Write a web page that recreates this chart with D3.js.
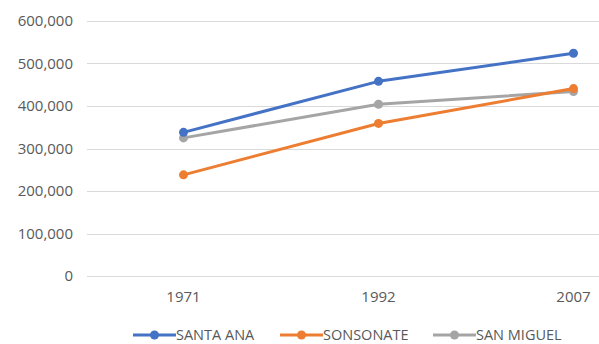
<!DOCTYPE html>
<html>
<head>
<meta charset="utf-8">
<script src="https://cdn.jsdelivr.net/npm/d3@7"></script>
<style>
  body { margin: 0; background: #fff; }
  text { font-family: "Open Sans", sans-serif; fill: #595959; }
</style>
</head>
<body>
<script>
var years = ["1971", "1992", "2007"];
var santaAna = [338000, 458000, 524000];
var sonsonate = [238000, 359000, 441000];
var sanMiguel = [325000, 404000, 434000];
var seriesNames = ["SANTA ANA", "SONSONATE", "SAN MIGUEL"];
var yTicks = [0, 100000, 200000, 300000, 400000, 500000, 600000];

var width = 599,
    height = 344;

var svg = d3.select("body").append("svg")
    .attr("width", width)
    .attr("height", height);

var colors = ["#4472c4", "#ed7d31", "#a5a5a5"];
var series = [santaAna, sonsonate, sanMiguel];

// plot runs past the right edge, like the cropped original
var x = d3.scaleBand().domain(years).range([86, 671]);
var y = d3.scaleLinear().domain([0, 600000]).range([276, 21]);

function cx(i) { return x(years[i]) + x.bandwidth() / 2; }

// gridlines
svg.append("g")
    .selectAll("line")
    .data(yTicks)
    .enter()
    .append("line")
    .attr("x1", 87)
    .attr("x2", width)
    .attr("y1", function (d) { return Math.round(y(d)) + 0.5; })
    .attr("y2", function (d) { return Math.round(y(d)) + 0.5; })
    .style("stroke", "#d9d9d9")
    .style("stroke-width", 1);

// y labels
svg.append("g")
    .selectAll("text")
    .data(yTicks)
    .enter()
    .append("text")
    .attr("x", 73)
    .attr("y", function (d) { return y(d) + 5; })
    .attr("text-anchor", "end")
    .style("font-size", "15px")
    .text(function (d) { return d3.format(",")(d); });

// x labels
svg.append("g")
    .selectAll("text")
    .data(years)
    .enter()
    .append("text")
    .attr("x", function (d, i) { return cx(i); })
    .attr("y", 302)
    .attr("text-anchor", "middle")
    .style("font-size", "15px")
    .text(function (d) { return d; });

var line = d3.line()
    .x(function (d, i) { return cx(i); })
    .y(function (d) { return y(d); });

// draw back to front so blue sits on top
[2, 1, 0].forEach(function (k) {
    var g = svg.append("g");
    g.append("path")
        .datum(series[k])
        .attr("d", line)
        .style("fill", "none")
        .style("stroke", colors[k])
        .style("stroke-width", 3)
        .style("stroke-linejoin", "round")
        .style("stroke-linecap", "round");
    g.selectAll("circle")
        .data(series[k])
        .enter()
        .append("circle")
        .attr("cx", function (d, i) { return cx(i); })
        .attr("cy", function (d) { return y(d); })
        .attr("r", 4.5)
        .style("fill", colors[k]);
});

// legend
var legendX = [133, 280, 433];
var legend = svg.append("g")
    .selectAll("g")
    .data(seriesNames)
    .enter()
    .append("g")
    .attr("transform", function (d, i) { return "translate(" + legendX[i] + ",335)"; });

legend.append("line")
    .attr("x1", 0)
    .attr("x2", 43)
    .style("stroke", function (d, i) { return colors[i]; })
    .style("stroke-width", 3);
legend.append("circle")
    .attr("cx", 21.5)
    .attr("r", 4.5)
    .style("fill", function (d, i) { return colors[i]; });
legend.append("text")
    .attr("x", 43)
    .attr("y", 5)
    .style("font-size", "14.5px")
    .text(function (d) { return d; });
</script>
</body>
</html>
